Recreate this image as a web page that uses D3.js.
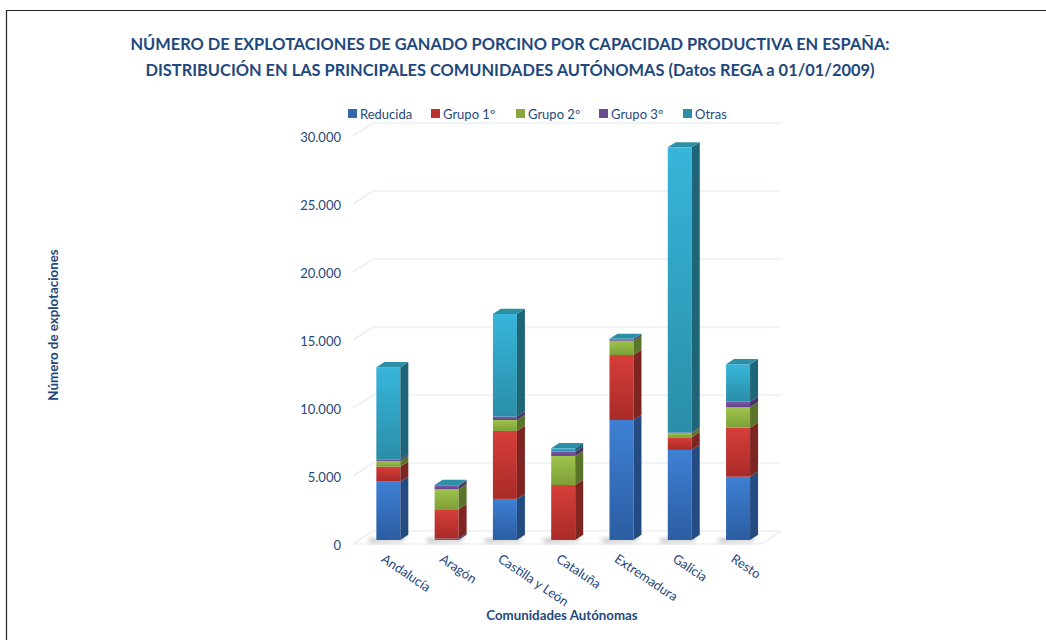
<!DOCTYPE html>
<html>
<head>
<meta charset="utf-8">
<script src="https://cdn.jsdelivr.net/npm/d3@7"></script>
<style>
  html, body { margin: 0; padding: 0; background: #fff; }
  svg { display: block; font-family: Lato, 'Open Sans', sans-serif; }
  .title { font-weight: bold; font-size: 16.4px; fill: #1f497d; }
  .legend text, .tick-y, .tick-x { font-size: 13px; fill: #1f497d; }
  .axis-title { font-weight: bold; font-size: 13.3px; fill: #1f497d; }
</style>
</head>
<body>
<svg class="chart"></svg>
<script>
const categories = ['Andalucía', 'Aragón', 'Castilla y León', 'Cataluña', 'Extremadura', 'Galicia', 'Resto']
const seriesNames = ['Reducida', 'Grupo 1º', 'Grupo 2º', 'Grupo 3º', 'Otras']
const reducida = [4290, 100, 3020, 0, 8820, 6620, 4650]
const grupo1 = [1100, 2160, 5000, 4040, 4780, 930, 3610]
const grupo2 = [420, 1470, 800, 2140, 1050, 300, 1500]
const grupo3 = [120, 240, 250, 310, 110, 50, 410]
const otras = [6770, 70, 7550, 250, 30, 20970, 2750]
const yTicks = [0, 5000, 10000, 15000, 20000, 25000, 30000]

const seriesValues = [reducida, grupo1, grupo2, grupo3, otras]
const colors = [
  { top: '#3e80d4', bottom: '#2b5da1', side: '#244c82', cap: '#3569ad' },
  { top: '#d63e39', bottom: '#a92b28', side: '#7e2421', cap: '#b9322e' },
  { top: '#9dc44c', bottom: '#7e9f38', side: '#5a7429', cap: '#86a83e' },
  { top: '#7f56a9', bottom: '#62428a', side: '#4a3168', cap: '#6b4a94' },
  { top: '#37b5db', bottom: '#2a8ea8', side: '#1f6578', cap: '#2c8fa6' }
]

const width = 1046
const height = 640
const floorY = 544
const leftX = 353
const plotW = 408
const depth = { dx: 20, dy: -13 }
const barPlane = 0.31
const barW = 24
const barDepth = { dx: 8, dy: -5.2 }

const svg = d3.select('.chart').attr('width', width).attr('height', height)
const defs = svg.append('defs')

colors.forEach((c, i) => {
  const g = defs.append('linearGradient').attr('id', `grad${i}`)
    .attr('x1', 0).attr('y1', 0).attr('x2', 0).attr('y2', 1)
  g.append('stop').attr('offset', '0%').attr('stop-color', c.top)
  g.append('stop').attr('offset', '100%').attr('stop-color', c.bottom)
})
defs.append('filter').attr('id', 'blur').attr('x', '-50%').attr('y', '-200%')
  .attr('width', '200%').attr('height', '500%')
  .append('feGaussianBlur').attr('stdDeviation', 2)

// outer frame
svg.append('path')
  .attr('d', `M6.5,${height} V10.5 H${width}`)
  .attr('fill', 'none').attr('stroke', '#222').attr('stroke-width', 1.2)

// titles
svg.append('text').attr('class', 'title').attr('x', 510).attr('y', 50)
  .attr('text-anchor', 'middle')
  .text('NÚMERO DE EXPLOTACIONES DE GANADO PORCINO POR CAPACIDAD PRODUCTIVA EN ESPAÑA:')
svg.append('text').attr('class', 'title').attr('x', 510).attr('y', 76)
  .attr('text-anchor', 'middle')
  .text('DISTRIBUCIÓN EN LAS PRINCIPALES COMUNIDADES AUTÓNOMAS (Datos REGA a 01/01/2009)')

const x = d3.scaleBand().domain(categories).range([leftX, leftX + plotW])
const y = d3.scaleLinear().domain([0, 30000]).range([floorY, 136])
const fmt = d3.formatLocale({ decimal: ',', thousands: '.', grouping: [3], currency: ['', ''] }).format(',d')

// grid: left wall diagonals + back wall lines
const grid = svg.append('g').attr('stroke', '#e1e9f4').attr('stroke-width', 1.2).attr('fill', 'none')
grid.selectAll('path').data(yTicks).enter().append('path')
  .attr('d', v => `M${leftX},${y(v)} L${leftX + depth.dx},${y(v) + depth.dy} H${leftX + plotW + depth.dx}`)
// floor
grid.append('path')
  .attr('d', `M${leftX},${floorY} H${leftX + plotW} L${leftX + plotW + depth.dx},${floorY + depth.dy}`)

svg.append('g').selectAll('text').data(yTicks).enter().append('text')
  .attr('class', 'tick-y')
  .attr('x', 341).attr('y', v => y(v) + 6)
  .attr('text-anchor', 'end')
  .text(v => fmt(v))

// bars
const stack = categories.map((c, i) => {
  let base = 0
  return seriesValues.map((vals, s) => {
    const seg = { s, y0: base, y1: base + vals[i] }
    base += vals[i]
    return seg
  }).filter(seg => seg.y1 > seg.y0)
})

const px = barPlane * depth.dx
const py = barPlane * depth.dy

const bars = svg.append('g').selectAll('g').data(categories).enter().append('g')
  .attr('transform', c => `translate(${x(c) + x.bandwidth() / 2 - barW / 2 + px},${py})`)

// floor shadow
bars.append('path')
  .attr('d', `M-9,${floorY - 1} L${barW - 2},${floorY - 1} L${barW + 6},${floorY - 5} L${barW + 2},${floorY + 1} L-6,${floorY + 2} Z`)
  .attr('fill', '#666').attr('opacity', 0.55).attr('filter', 'url(#blur)')

bars.each((c, i, nodes) => {
  const g = d3.select(nodes[i])
  const segs = stack[i]
  segs.forEach((seg, k) => {
    const top = y(seg.y1)
    const bot = y(seg.y0)
    const col = colors[seg.s]
    g.append('rect')
      .attr('x', 0).attr('y', top).attr('width', barW).attr('height', bot - top)
      .attr('fill', `url(#grad${seg.s})`)
    g.append('path')
      .attr('d', `M${barW},${bot} L${barW + barDepth.dx},${bot + barDepth.dy} L${barW + barDepth.dx},${top + barDepth.dy} L${barW},${top} Z`)
      .attr('fill', col.side)
    if (k === segs.length - 1) {
      g.append('path')
        .attr('d', `M0,${top} L${barDepth.dx},${top + barDepth.dy} L${barW + barDepth.dx},${top + barDepth.dy} L${barW},${top} Z`)
        .attr('fill', col.cap)
    }
  })
})

// x labels
svg.append('g').selectAll('text').data(categories).enter().append('text')
  .attr('class', 'tick-x')
  .attr('transform', c => `translate(${x(c) + x.bandwidth() / 2 - barW / 2 + px + 4},${561}) rotate(34)`)
  .text(c => c)

// axis titles
svg.append('text').attr('class', 'axis-title')
  .attr('transform', 'translate(58,325) rotate(-90)')
  .attr('text-anchor', 'middle')
  .text('Número de explotaciones')
svg.append('text').attr('class', 'axis-title')
  .attr('x', 562).attr('y', 620).attr('text-anchor', 'middle')
  .text('Comunidades Autónomas')

// legend
const legendX = [348, 431, 516, 599, 683]
const legend = svg.append('g').attr('class', 'legend').selectAll('g').data(seriesNames).enter().append('g')
  .attr('transform', (d, i) => `translate(${legendX[i]},109)`)
legend.append('rect').attr('width', 9).attr('height', 9).attr('fill', (d, i) => colors[i].cap)
legend.append('text').attr('x', 12).attr('y', 9.5).text(d => d)
</script>
</body>
</html>
